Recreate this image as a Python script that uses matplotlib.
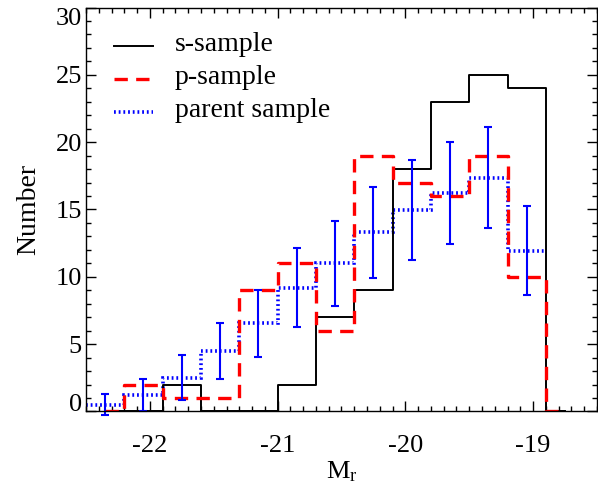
import numpy as np
import matplotlib
matplotlib.use('Agg')
import matplotlib.pyplot as plt
from matplotlib.ticker import MultipleLocator
from matplotlib.lines import Line2D
from matplotlib.legend_handler import HandlerLine2D

plt.rcParams['font.family'] = ['Liberation Serif', 'DejaVu Serif']
plt.rcParams['mathtext.fontset'] = 'custom'
plt.rcParams['mathtext.rm'] = 'Liberation Serif'
plt.rcParams['axes.unicode_minus'] = False

# bin centres (0.3 mag bins)
centers = [-22.35, -22.05, -21.75, -21.45, -21.15, -20.85, -20.55,
           -20.25, -19.95, -19.65, -19.35, -19.05, -18.75]
s_sample = [0, 0, 2, 0, 0, 2, 7, 9, 18, 23, 25, 24, 0]
p_sample = [0, 2, 1, 1, 9, 11, 6, 19, 17, 16, 19, 10, 0]

# parent sample (scaled), bin edges and errors
parent_edges = [-22.5, -22.2, -21.9, -21.6, -21.3, -21.0, -20.7,
                -20.4, -20.1, -19.8, -19.5, -19.2, -18.9]
parent = [0.5, 1.2, 2.5, 4.5, 6.55, 9.2, 11.0, 13.3, 14.95, 16.25, 17.35, 11.95]
parent_err = [0.77, 1.2, 1.67, 2.08, 2.48, 2.95, 3.13, 3.38, 3.72, 3.79, 3.76, 3.3]

blue_ls = (0, (0.5, 0.8))
red_ls = (0, (4, 2.5))


class BaselineLine(HandlerLine2D):
    # legend line sits on the text baseline, like IDL's legend
    def create_artists(self, legend, orig_handle, xdescent, ydescent,
                       width, height, fontsize, trans):
        arts = super().create_artists(legend, orig_handle, xdescent, ydescent,
                                      width, height, fontsize, trans)
        for a in arts:
            a.set_ydata(np.asarray(a.get_ydata()) - 0.18 * fontsize)
        return arts


fig = plt.figure(figsize=(5.98, 4.84), dpi=100)
ax = fig.add_axes([0.1438, 0.1498, 0.8545, 0.8347])

l1, = ax.plot(centers, s_sample, drawstyle='steps-mid', color='black', lw=1.4)
l2, = ax.plot(centers, p_sample, drawstyle='steps-mid', color='red', lw=2.4,
              linestyle=red_ls)
ax.stairs(parent, parent_edges, baseline=None, color='blue', lw=2.6,
          linestyle=blue_ls)
l3 = Line2D([], [], color='blue', lw=2.6, linestyle=blue_ls)

pc = [(parent_edges[i] + parent_edges[i + 1]) / 2 for i in range(len(parent))]
ax.errorbar(pc, parent, yerr=parent_err, fmt='none', ecolor='blue',
            elinewidth=1.5, capsize=3, capthick=1.5, clip_on=False)

ax.set_xlim(-22.5, -18.5)
ax.set_ylim(0, 30)
ax.xaxis.set_major_locator(MultipleLocator(1))
ax.xaxis.set_minor_locator(MultipleLocator(0.1))
ax.yaxis.set_major_locator(MultipleLocator(5))
ax.yaxis.set_minor_locator(MultipleLocator(1))
ax.tick_params(which='both', direction='in', top=True, right=True,
               labelsize=19, width=1)
ax.tick_params(which='major', length=7)
ax.tick_params(which='minor', length=3.5)
ax.tick_params(axis='x', which='major', pad=17)
ax.tick_params(axis='y', which='major', pad=3)
for s in ax.spines.values():
    s.set_linewidth(1)

ax.set_xlabel(r'$\mathregular{M_r}$', fontsize=19, labelpad=2)
ax.set_ylabel('Number', fontsize=20, labelpad=10)

ax.legend([l1, l2, l3], ['s-sample', 'p-sample', 'parent sample'],
          handler_map={Line2D: BaselineLine()},
          loc='upper left', bbox_to_anchor=(0.008, 1.0), frameon=False,
          fontsize=20, handlelength=1.4, handletextpad=0.8,
          labelspacing=0.28, borderaxespad=0.45, borderpad=0.4)

# keep the end labels inside the frame like the original
fig.canvas.draw()
for t in ax.yaxis.get_major_ticks():
    if t.get_loc() == 0:
        t.label1.set_va('baseline')
    elif t.get_loc() == 30:
        t.label1.set_va('top')

fig.savefig('out.png', dpi=100)
